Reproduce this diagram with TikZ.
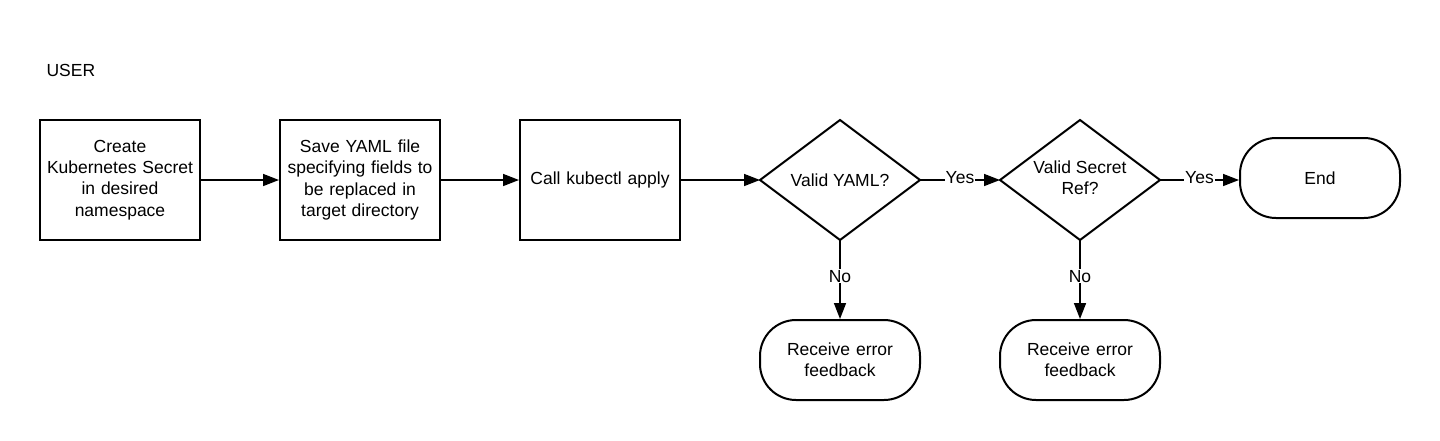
\documentclass[tikz,border=0pt]{standalone}
\usepackage{fontspec}
\setmainfont{Liberation Sans}
\usetikzlibrary{arrows.meta,shapes.geometric}
\begin{document}
\begin{tikzpicture}[x=1pt,y=-1pt,
  every node/.style={font=\fontsize{17.5}{21.4}\selectfont, align=center},
  proc/.style={draw, line width=2pt, minimum width=160pt, minimum height=120pt, inner sep=2pt, text width=156pt},
  term/.style={draw, line width=2pt, minimum width=160pt, minimum height=80pt, rounded corners=36pt, text width=150pt},
  conn/.style={line width=1.6pt, -{Triangle[length=16pt,width=12pt]}},
  lab/.style={fill=white, inner sep=1pt}]
\fill[white] (0,0) rectangle (1440,440);
\node[anchor=west] (user) at (43,70) {USER};
\node[proc] (a) at (120,180) {Create\\Kubernetes Secret\\in desired\\namespace};
\node[proc] (b) at (360,180) {Save YAML file\\specifying fields to\\be replaced in\\target directory};
\node[proc] (c) at (600,180) {Call kubectl apply};
\path[draw, line width=2pt] (840,120) -- (920,180) -- (840,240) -- (760,180) -- cycle;
\node (d1) at (840,180) {Valid YAML?};
\coordinate (d1w) at (760,180); \coordinate (d1e) at (920,180); \coordinate (d1s) at (840,240);
\path[draw, line width=2pt] (1080,120) -- (1160,180) -- (1080,240) -- (1000,180) -- cycle;
\node (d2) at (1080,178) {Valid Secret\\Ref?};
\coordinate (d2w) at (1000,180); \coordinate (d2e) at (1160,180); \coordinate (d2s) at (1080,240);
\node[term] (e) at (1320,178) {End};
\node[term] (r1) at (840,360) {Receive error\\feedback};
\node[term] (r2) at (1080,360) {Receive error\\feedback};
\draw[conn] (a) -- (b);
\draw[conn] (b) -- (c);
\draw[conn] (c) -- (d1w);
\draw[conn] (d1e) -- node[lab, yshift=2pt] {Yes} (d2w);
\draw[conn] (d2e) -- node[lab, yshift=2pt] {Yes} (e.west |- d2e);
\draw[conn] (d1s) -- node[lab, pos=0.46] {No} (r1);
\draw[conn] (d2s) -- node[lab, pos=0.46] {No} (r2);
\end{tikzpicture}
\end{document}
